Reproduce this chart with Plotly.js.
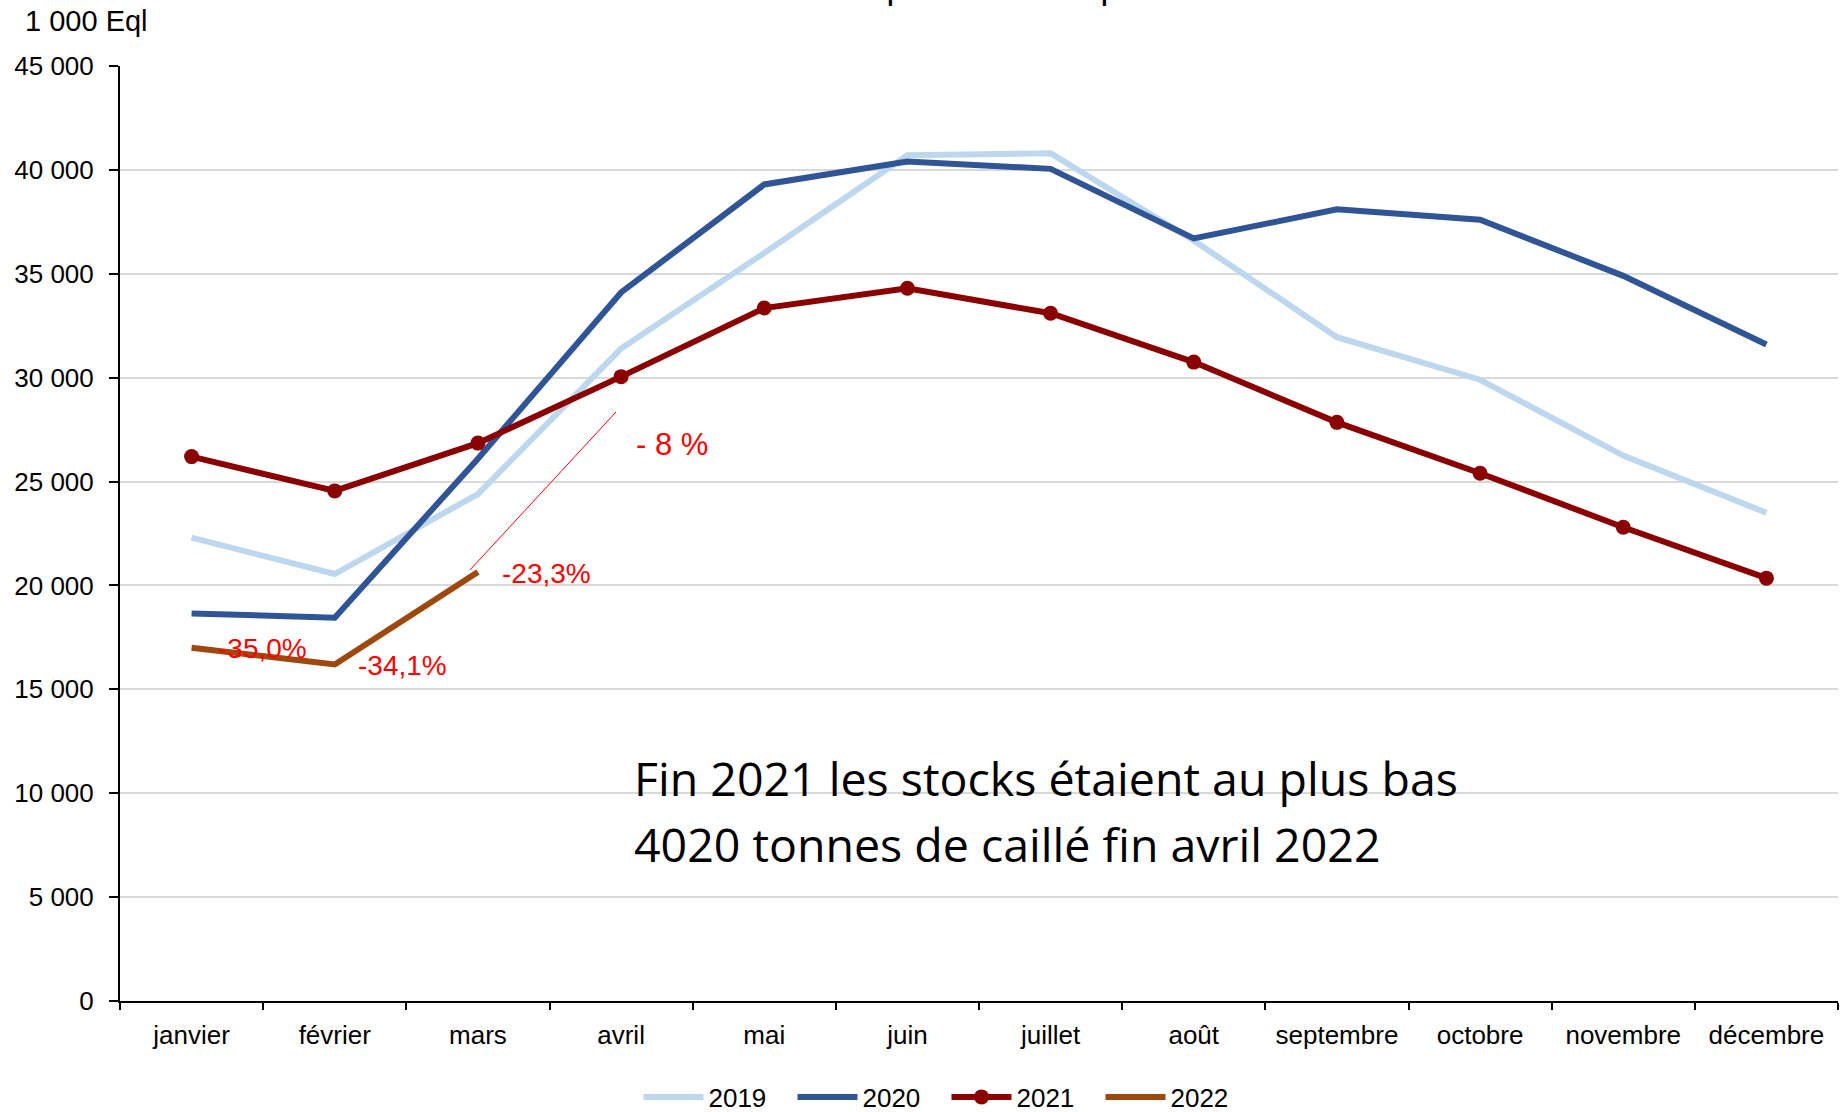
<!DOCTYPE html>
<html>
<head>
<meta charset="utf-8">
<script src="https://cdn.plot.ly/plotly-3.0.1.min.js"></script>
<style>html,body{margin:0;padding:0;background:#fff;}#chart{width:1846px;height:1112px;}</style>
</head>
<body>
<div id="chart"></div>
<script>
const months = ["janvier","février","mars","avril","mai","juin","juillet","août","septembre","octobre","novembre","décembre"];
const s2019 = [22300,20550,24400,31400,36000,40700,40800,36600,31950,29900,26250,23500];
const s2020 = [18650,18450,26100,34100,39300,40400,40050,36700,38100,37600,34900,31600];
const s2021 = [26200,24550,26850,30050,33350,34300,33100,30750,27850,25400,22800,20350];
const s2022 = [17000,16200,20650];
const seriesNames = ["2019","2020","2021","2022"];
const pctLabels = ["-35,0%","-34,1%","-23,3%","- 8 %"];
const titleText = "Stocks de produits de report";
const unitText = "1 000 Eql";
const noteLines = ["Fin 2021 les stocks étaient au plus bas", "4020 tonnes de caillé fin avril 2022"];

const FONT = "Liberation Sans, Arial, sans-serif";
const NOTEFONT = "Open Sans, Lato, sans-serif";
const traces = [
  {x: months, y: s2019, name: seriesNames[0], mode: "lines", line: {color: "#BDD7EE", width: 6}},
  {x: months, y: s2020, name: seriesNames[1], mode: "lines", line: {color: "#2F5597", width: 6}},
  {x: months, y: s2021, name: seriesNames[2], mode: "lines+markers", line: {color: "#8B0000", width: 6}, marker: {color: "#8B0000", size: 15}},
  {x: months.slice(0, s2022.length), y: s2022, name: seriesNames[3], mode: "lines", line: {color: "#9E480E", width: 6}}
];

const red = "#FF0000";
const layout = {
  width: 1846, height: 1112,
  margin: {l: 120, r: 8, t: 66, b: 111, autoexpand: false},
  paper_bgcolor: "#fff", plot_bgcolor: "#fff",
  separators: ", ",
  font: {family: FONT, size: 26, color: "#000"},
  showlegend: true,
  legend: {orientation: "h", x: 0.3018, xanchor: "left", y: -0.1027, yanchor: "middle",
           font: {family: FONT, size: 26, color: "#000"}, entrywidth: 79, itemwidth: 60, traceorder: "normal"},
  xaxis: {type: "category", range: [-0.5, 11.5], tickson: "boundaries", ticks: "outside", ticklen: 7, tickwidth: 2, tickcolor: "#000",
          showline: true, linecolor: "#000", linewidth: 2, showgrid: false, zeroline: false, ticklabelstandoff: 10,
          tickfont: {family: FONT, size: 26, color: "#000"}, fixedrange: true},
  yaxis: {range: [0, 45000], dtick: 5000, tickformat: ",d", ticks: "outside", ticklen: 9, tickwidth: 2, tickcolor: "#000",
          showline: true, linecolor: "#000", linewidth: 2, showgrid: true, gridcolor: "#D9D9D9", gridwidth: 2,
          zeroline: false, ticklabelstandoff: 10, tickfont: {family: FONT, size: 26, color: "#000"}, fixedrange: true},
  shapes: [
    {type: "line", xref: "paper", yref: "paper", x0: 0.2037, y0: 0.4610, x1: 0.2887, y1: 0.6299, line: {color: red, width: 1}}
  ],
  annotations: [
    {xref: "paper", yref: "paper", x: 0.4785, y: 1.0850, xanchor: "center", yanchor: "middle", showarrow: false,
     text: titleText, font: {family: FONT, size: 35, color: "#000"}},
    {xref: "paper", yref: "paper", x: -0.0565, y: 1.0481, xanchor: "left", yanchor: "middle", showarrow: false,
     text: unitText, font: {family: FONT, size: 29, color: "#000"}},
    {xref: "paper", yref: "paper", x: 0.2983, y: 0.2389, xanchor: "left", yanchor: "middle", showarrow: false, align: "left",
     text: noteLines[0], font: {family: NOTEFONT, size: 46.5, color: "#000"}},
    {xref: "paper", yref: "paper", x: 0.2983, y: 0.1677, xanchor: "left", yanchor: "middle", showarrow: false, align: "left",
     text: noteLines[1], font: {family: NOTEFONT, size: 46.5, color: "#000"}},
    {xref: "paper", yref: "paper", x: 0.0832, y: 0.3775, xanchor: "center", yanchor: "middle", showarrow: false,
     text: pctLabels[0], font: {family: FONT, size: 28, color: red}},
    {xref: "paper", yref: "paper", x: 0.1642, y: 0.3583, xanchor: "center", yanchor: "middle", showarrow: false,
     text: pctLabels[1], font: {family: FONT, size: 28, color: red}},
    {xref: "paper", yref: "paper", x: 0.2480, y: 0.4567, xanchor: "center", yanchor: "middle", showarrow: false,
     text: pctLabels[2], font: {family: FONT, size: 28, color: red}},
    {xref: "paper", yref: "paper", x: 0.3213, y: 0.5947, xanchor: "center", yanchor: "middle", showarrow: false,
     text: pctLabels[3], font: {family: FONT, size: 31, color: red}}
  ]
};
Plotly.newPlot("chart", traces, layout, {displayModeBar: false, staticPlot: true});
</script>
</body>
</html>
